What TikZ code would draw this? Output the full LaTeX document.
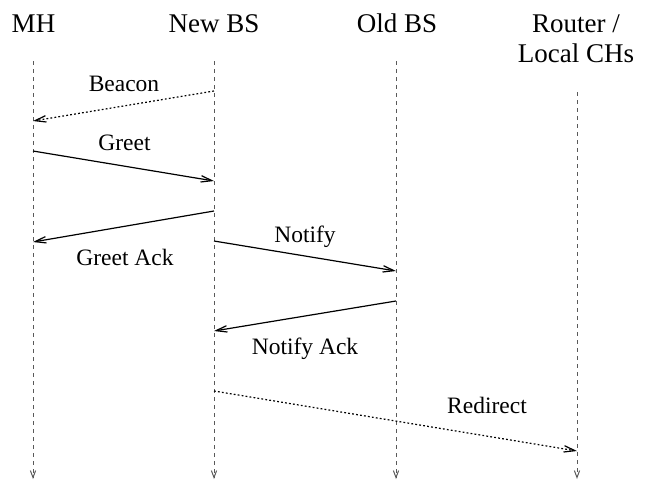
\documentclass[tikz,border=0pt]{standalone}
\usepackage{fontspec}
\setmainfont{Liberation Serif}
\usetikzlibrary{arrows.meta}

\begin{document}
\begin{tikzpicture}[x=0.5pt,y=-0.5pt,line width=0.6pt,
    head/.style={font=\fontsize{13.5}{15}\selectfont, anchor=base, inner sep=0pt, align=center},
    msgtext/.style={font=\fontsize{11.75}{14}\selectfont, anchor=base, inner sep=0pt},
    lifeline/.style={black!65, line width=0.5pt, dash pattern=on 2pt off 2pt,
        -{Straight Barb[length=3.5pt,width=2.6pt]}},
    msg/.style={-{Straight Barb[length=5.5pt,width=3.2pt]}},
    hint/.style={msg, dash pattern=on 0.9pt off 1.1pt}]
    \useasboundingbox (0,0) rectangle (649,483);

    % entities
    \node[head] (mh) at (33.5,32) {MH};
    \node[head] (newbs) at (214,32) {New BS};
    \node[head] (oldbs) at (397,32) {Old BS};
    \node[head] (router) at (576,62) {Router /\\Local CHs};

    % lifelines
    \coordinate (mhtop) at (33,61);
    \coordinate (mhbot) at (33,479);
    \coordinate (nbstop) at (214,61);
    \coordinate (nbsbot) at (214,479);
    \coordinate (obstop) at (396,61);
    \coordinate (obsbot) at (396,479);
    \coordinate (rtrtop) at (577,92);
    \coordinate (rtrbot) at (577,479);
    \draw[lifeline] (mhtop) -- (mhbot);
    \draw[lifeline] (nbstop) -- (nbsbot);
    \draw[lifeline] (obstop) -- (obsbot);
    \draw[lifeline] (rtrtop) -- (rtrbot);

    % message ends
    \coordinate (beacon1) at (214,91);
    \coordinate (beacon2) at (33,121);
    \coordinate (greet1) at (33,151);
    \coordinate (greet2) at (214,181);
    \coordinate (gack1) at (214,211);
    \coordinate (gack2) at (33,242);
    \coordinate (notify1) at (214,241);
    \coordinate (notify2) at (396,271);
    \coordinate (nack1) at (396,301);
    \coordinate (nack2) at (214,331);
    \coordinate (redir1) at (214,391);
    \coordinate (redir2) at (577,451);

    \draw[hint] (beacon1) -- (beacon2);
    \node[msgtext] (beacon) at (124,91) {Beacon};

    \draw[msg] (greet1) -- (greet2);
    \node[msgtext] (greet) at (124.5,150) {Greet};

    \draw[msg] (gack1) -- (gack2);
    \node[msgtext] (gack) at (125,265) {Greet Ack};

    \draw[msg] (notify1) -- (notify2);
    \node[msgtext] (notify) at (305,242) {Notify};

    \draw[msg] (nack1) -- (nack2);
    \node[msgtext] (nack) at (305,354) {Notify Ack};

    \draw[hint] (redir1) -- (redir2);
    \node[msgtext] (redirect) at (487,413) {Redirect};
\end{tikzpicture}
\end{document}
